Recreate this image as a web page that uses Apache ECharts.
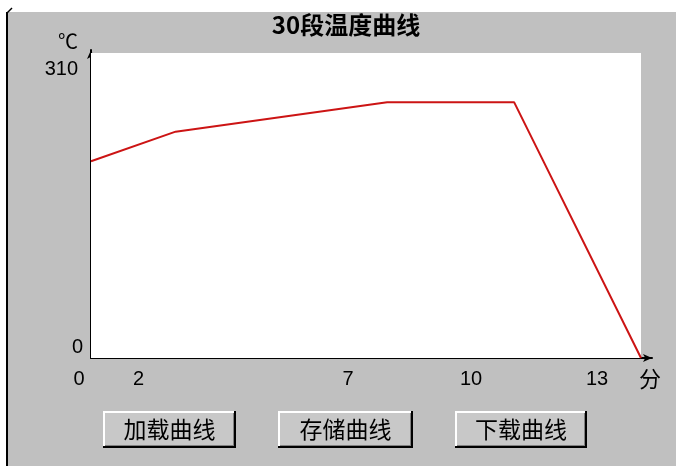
<!DOCTYPE html>
<html>
<head>
<meta charset="utf-8">
<script src="https://cdn.jsdelivr.net/npm/echarts@6/dist/echarts.min.js"></script>
<style>
html,body{margin:0;padding:0;background:#fff;}
#chart{width:676px;height:466px;}
</style>
</head>
<body>
<div id="chart"></div>
<script>
// ---- data ----
const TITLE = '30段温度曲线';
const X_VALUES = [0, 2, 7, 10, 13];          // minutes
const TEMPS = [200, 230, 260, 260, 0];       // ℃
const X_TICKS = [0, 2, 7, 10, 13];
const Y_TICKS = [0, 310];
const X_NAME = '分';
const Y_NAME = '℃';
const BUTTONS = ['加载曲线', '存储曲线', '下载曲线'];

// ---- layout ----
const X_PLOT_MAX = 13;
const Y_PLOT_MAX = 310;
const X_AXIS_MAX = 13.26;   // axis runs a little past plot (arrow)
const Y_AXIS_MAX = 313;
const X_LABEL_SHIFT = {0: 12, 2: 37, 7: 39, 10: 43, 13: 44};
const BTN_BOXES = [[103, 411, 133, 37], [278, 411, 135, 37], [455, 411, 132, 37]];
const LATIN = 'Liberation Sans';
const CJK = 'Noto Sans CJK SC';

const xRich = {};
X_TICKS.forEach(v => {
  xRich['x' + v] = {fontSize: 20, fontFamily: LATIN, color: '#000', padding: [0, 2 * X_LABEL_SHIFT[v], 0, 0]};
});
const yRich = {
  yTop: {fontSize: 20, fontFamily: LATIN, color: '#000', padding: [34, 5, 0, 0]},
  yBot: {fontSize: 20, fontFamily: LATIN, color: '#000', padding: [0, 0, 22, 0]}
};

function button(box, label) {
  const [x, y, w, h] = box;
  return {
    type: 'group', z: 5,
    children: [
      {type: 'rect', shape: {x: x, y: y, width: w, height: h}, style: {fill: '#000'}},
      {type: 'rect', shape: {x: x, y: y, width: w - 2, height: h - 2}, style: {fill: '#ffffff'}},
      {type: 'rect', shape: {x: x + 2, y: y + 2, width: w - 4, height: h - 4}, style: {fill: '#808080'}},
      {type: 'rect', shape: {x: x + 2, y: y + 2, width: w - 5, height: h - 5}, style: {fill: '#c8c8c8'}},
      {type: 'text', x: x + w / 2, y: y + h / 2, style: {
        text: label, fontSize: 23, fontFamily: CJK, fill: '#000', align: 'center', verticalAlign: 'middle'
      }}
    ]
  };
}

const chart = echarts.init(document.getElementById('chart'), null, {renderer: 'canvas'});
chart.setOption({
  animation: false,
  backgroundColor: '#c0c0c0',
  title: {
    text: TITLE, left: 346, top: 13, padding: 0, textAlign: 'center',
    textStyle: {fontSize: 24, fontWeight: 'bold', fontFamily: CJK, color: '#000'}
  },
  graphic: {
    elements: [
      {type: 'rect', z: -10, shape: {x: 0, y: 0, width: 676, height: 12}, style: {fill: '#fff'}},
      {type: 'rect', z: -10, shape: {x: 0, y: 0, width: 6, height: 466}, style: {fill: '#fff'}},
      {type: 'rect', z: -9, shape: {x: 6, y: 12, width: 2, height: 454}, style: {fill: '#000'}},
      {type: 'line', z: -9, shape: {x1: 7, y1: 13, x2: 12, y2: 8}, style: {stroke: '#000', lineWidth: 1.5}},
      ...BUTTONS.map((b, i) => button(BTN_BOXES[i], b))
    ]
  },
  grid: {left: 91, right: 24, top: 50, bottom: 108, containLabel: false},
  xAxis: {
    type: 'value', min: 0, max: X_AXIS_MAX,
    name: X_NAME, nameLocation: 'end', nameGap: -2,
    nameTextStyle: {fontSize: 22, fontFamily: CJK, color: '#000', align: 'center', verticalAlign: 'top', padding: [10, 0, 0, 0]},
    axisLine: {show: true, symbol: ['none', 'arrow'], symbolSize: [6, 9], lineStyle: {color: '#000', width: 2}},
    axisTick: {show: false},
    splitLine: {show: false},
    axisLabel: {
      show: true, margin: 11, customValues: X_TICKS,
      formatter: v => '{x' + v + '|' + v + '}', rich: xRich
    }
  },
  yAxis: {
    type: 'value', min: 0, max: Y_AXIS_MAX,
    name: Y_NAME, nameLocation: 'end', nameGap: 9,
    nameTextStyle: {fontSize: 20, fontFamily: CJK, color: '#000', align: 'right', verticalAlign: 'middle', padding: [0, 13, 0, 0]},
    axisLine: {show: true, symbol: ['none', 'arrow'], symbolSize: [6, 9], lineStyle: {color: '#000', width: 2}},
    axisTick: {show: false},
    splitLine: {show: false},
    axisLabel: {
      show: true, margin: 8, customValues: Y_TICKS,
      formatter: v => (v === Y_TICKS[Y_TICKS.length - 1] ? '{yTop|' + v + '}' : '{yBot|' + v + '}'),
      rich: yRich
    }
  },
  series: [
    {
      type: 'line', data: [], z: 1, silent: true,
      markArea: {
        silent: true,
        itemStyle: {color: '#ffffff', borderWidth: 0},
        data: [[{coord: [0, 0]}, {coord: [X_PLOT_MAX, Y_PLOT_MAX]}]]
      }
    },
    {
      type: 'line', z: 3, symbol: 'none',
      data: X_VALUES.map((x, i) => [x, TEMPS[i]]),
      lineStyle: {color: '#cc1414', width: 2}
    }
  ]
});
</script>
</body>
</html>
